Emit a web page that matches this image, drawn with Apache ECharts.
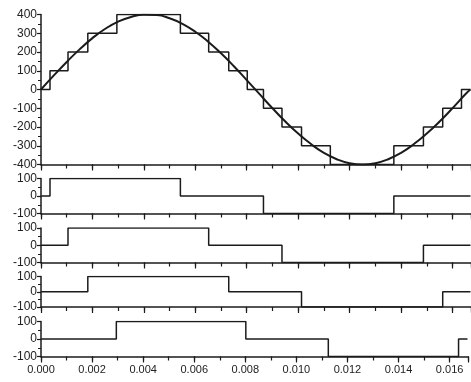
<!DOCTYPE html>
<html lang="en">
<head>
<meta charset="UTF-8">
<title>Staircase</title>
<script src="https://cdn.jsdelivr.net/npm/echarts@6.0.0/dist/echarts.min.js"></script>
<style>
    body { margin: 0; background: #fff; }
</style>
</head>
<body>
<div id="box" style="width:471px;height:382px"></div>
<script>
    // sine reference
    const sineT = [0, 0.0005, 0.001, 0.0015, 0.002, 0.0025, 0.003, 0.0035, 0.004, 0.0045, 0.005, 0.0055,
        0.006, 0.0065, 0.007, 0.0075, 0.008, 0.0085, 0.009, 0.0095, 0.010, 0.0105, 0.011, 0.0115,
        0.012, 0.0125, 0.013, 0.0135, 0.014, 0.0145, 0.015, 0.0155, 0.016, 0.0165, 0.0167];
    const sineV = [0, 75, 147, 214, 274, 324, 362, 387, 399, 397, 380, 350,
        308, 255, 193, 124, 50, -25, -100, -171, -235, -291, -338, -372,
        -393, -400, -393, -372, -338, -291, -235, -171, -100, -25, 0];

    // staircase: switching instants and new levels
    const stairT = [0, 0.00035, 0.00105, 0.00182, 0.00295, 0.00542, 0.00652, 0.0073, 0.00802,
        0.00865, 0.00937, 0.01013, 0.01125, 0.01372, 0.01487, 0.01562, 0.01635, 0.0167];
    const stairV = [0, 100, 200, 300, 400, 300, 200, 100, 0,
        -100, -200, -300, -400, -300, -200, -100, 0, 0];

    // the four cells
    const cell1T = [0, 0.00035, 0.00542, 0.00865, 0.01372, 0.0167];
    const cell1V = [0, 100, 0, -100, 0, 0];
    const cell2T = [0, 0.00105, 0.00652, 0.00937, 0.01487, 0.0167];
    const cell2V = [0, 100, 0, -100, 0, 0];
    const cell3T = [0, 0.00182, 0.0073, 0.01013, 0.01562, 0.0167];
    const cell3V = [0, 100, 0, -100, 0, 0];
    const cell4T = [0, 0.00295, 0.00802, 0.01125, 0.01635, 0.0167];
    const cell4V = [0, 100, 0, -100, 0, 0];

    const xTicks = ['0.000', '0.002', '0.004', '0.006', '0.008', '0.010', '0.012', '0.014', '0.016'];

    function zip(t, v) {
        return t.map((x, i) => [x, v[i]]);
    }

    const ink = '#1b1b1b';
    const font = 'Liberation Sans, Arial, sans-serif';
    const xMax = 0.01672;
    // panel boxes: top / height
    const panels = [
        { top: 14.5, height: 150, min: -400, max: 400 },
        { top: 178.5, height: 35, min: -100, max: 100 },
        { top: 228, height: 34.5, min: -100, max: 100 },
        { top: 276.5, height: 30.5, min: -100, max: 100 },
        { top: 321.5, height: 35, min: -100, max: 100 },
    ];

    const grid = [], xAxis = [], yAxis = [];
    panels.forEach((p, i) => {
        grid.push({ left: 41, right: 0, top: p.top, height: p.height });
        const last = i === panels.length - 1;
        xAxis.push({
            type: 'value', gridIndex: i, position: 'bottom', min: 0, max: xMax, interval: 0.002,
            axisLine: { onZero: false, lineStyle: { color: ink, width: 1.5 } },
            axisTick: { length: 6, lineStyle: { color: ink, width: 1.2 } },
            splitLine: { show: false },
            axisLabel: {
                show: last, color: '#222', fontSize: 11, fontFamily: font, margin: 8,
                formatter: v => {
                    const k = Math.round(v / 0.002);
                    return Math.abs(v - k * 0.002) < 1e-7 && k < xTicks.length ? xTicks[k] : '';
                }
            }
        });
        xAxis.push({
            type: 'value', gridIndex: i, position: 'bottom', min: 0, max: xMax, interval: 0.001,
            axisLine: { show: false, onZero: false },
            axisTick: { length: 4, lineStyle: { color: ink, width: 1.2 } },
            splitLine: { show: false },
            axisLabel: { show: false }
        });
        yAxis.push({
            type: 'value', gridIndex: i, min: p.min, max: p.max, interval: 100,
            axisLine: { show: true, onZero: false, lineStyle: { color: ink, width: 1.5 } },
            axisTick: { show: true, length: 4, lineStyle: { color: ink, width: 1.2 } },
            minorTick: { show: true, splitNumber: 2, length: 3, lineStyle: { color: ink, width: 1 } },
            splitLine: { show: false },
            axisLabel: { color: '#222', fontSize: 12, fontFamily: font, margin: 4 }
        });
    });

    function stepLine(data, idx, w) {
        return {
            type: 'line', data: data, xAxisIndex: idx * 2, yAxisIndex: idx, step: 'end',
            showSymbol: false, silent: true,
            lineStyle: { color: ink, width: w }
        };
    }

    const series = [
        {
            type: 'line', data: zip(sineT, sineV), xAxisIndex: 0, yAxisIndex: 0, smooth: true,
            showSymbol: false, silent: true, lineStyle: { color: ink, width: 2 }
        },
        stepLine(zip(stairT, stairV), 0, 1.5),
        stepLine(zip(cell1T, cell1V), 1, 1.5),
        stepLine(zip(cell2T, cell2V), 2, 1.5),
        stepLine(zip(cell3T, cell3V), 3, 1.5),
        stepLine(zip(cell4T, cell4V), 4, 1.5),
    ];

    const chart = echarts.init(document.getElementById('box'));
    chart.setOption({
        backgroundColor: '#fff',
        animation: false,
        grid: grid,
        xAxis: xAxis,
        yAxis: yAxis,
        series: series
    });
</script>
</body>
</html>
